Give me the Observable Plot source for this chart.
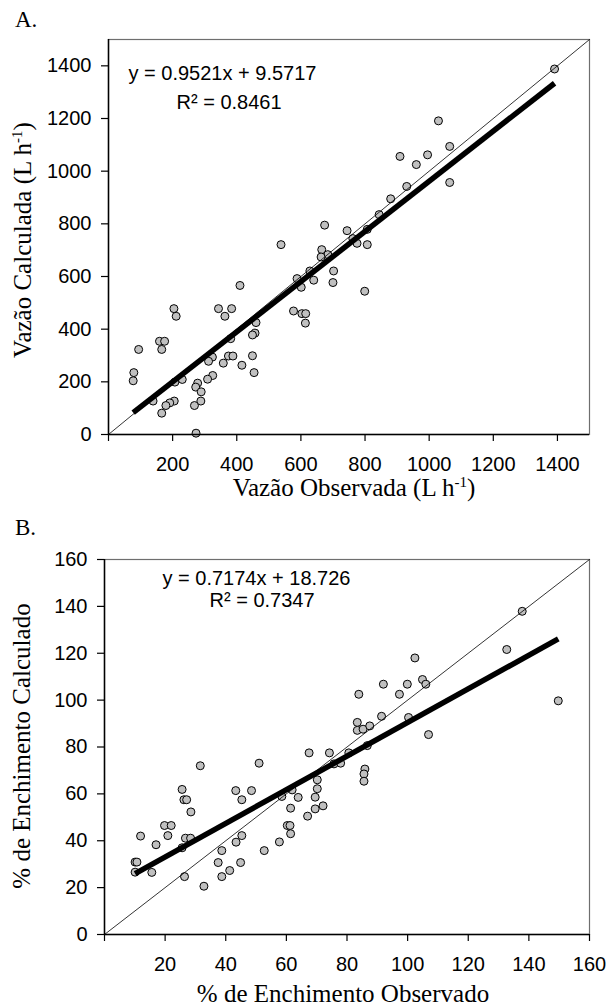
<!DOCTYPE html>
<html>
<head>
<meta charset="utf-8">
<script src="https://cdn.jsdelivr.net/npm/d3@7"></script>
<script src="https://cdn.jsdelivr.net/npm/@observablehq/plot@0.6"></script>
<style>
  html, body { margin: 0; padding: 0; background: #fff; }
  #page { position: relative; width: 608px; height: 1007px; overflow: hidden; }
  .panel { position: absolute; left: 0; }
  .ttl { position: absolute; font-family: "Liberation Serif", "Times New Roman", serif; color: #000; white-space: nowrap; line-height: 1; }
  .ttl sup { font-size: 0.6em; vertical-align: 0.6em; line-height: 0; }
  .center { transform: translate(-50%, -50%); }
  .rot { transform: translate(-50%, -50%) rotate(-90deg); }
</style>
</head>
<body>
<div id="page">
  <div class="ttl" style="left:15px; top:8px; font-size:23px;">A.</div>
  <div class="ttl rot" style="left:22px; top:240px; font-size:25px;">Vazão Calculada (L h<sup>-1</sup>)</div>
  <div class="ttl center" style="left:354px; top:487px; font-size:25px;">Vazão Observada (L h<sup>-1</sup>)</div>
  <div class="ttl" style="left:15px; top:516px; font-size:23px;">B.</div>
  <div class="ttl rot" style="left:21px; top:746px; font-size:25px;">% de Enchimento Calculado</div>
  <div class="ttl center" style="left:343px; top:993px; font-size:25px;">% de Enchimento Observado</div>
  <div id="panelA" class="panel" style="top:0px;"></div>
  <div id="panelB" class="panel" style="top:500px;"></div>
</div>
<script>
// ---------- Panel A: Vazão (L h-1) ----------
const vazaoObservada = [1391,1029,1064,909,995,960,1064,930,880,844,744,807,762,775,807,674,538,665,684,663,628,702,700,588,601,640,799,410,204,211,343,384,363,577,603,615,614,460,457,449,381,159,175,166,94,324,312,374,388,358,416,449,454,79,77,325,309,230,207,278,272,289,288,268,139,205,191,179,166,273];
const vazaoCalculada = [1388,1191,1094,1056,1062,1025,957,942,895,835,774,779,744,726,721,795,721,702,683,674,621,621,577,592,559,586,544,566,478,449,478,478,449,469,459,459,423,425,385,378,364,354,354,323,323,294,278,298,298,271,263,299,235,235,204,224,210,209,199,195,180,162,127,110,127,127,120,110,81,5];
const vazaoDomain = [0, 1500];
const vazaoTicks = [0, 200, 400, 600, 800, 1000, 1200, 1400];
const vazaoFit = { slope: 0.9521, intercept: 9.5717 };
const vazaoEq = "y = 0.9521x + 9.5717";
const vazaoR2 = "R² = 0.8461";

// ---------- Panel B: % de Enchimento ----------
const enchObservado = [67.5,74.2,31.6,51.0,25.6,26.2,27.1,28.5,43.3,48.5,45.3,19.8,22.0,20.9,11.9,17.0,26.7,28.4,25.6,10.1,10.7,10.1,15.6,26.4,32.8,38.7,37.5,38.7,41.3,44.9,43.4,45.3,52.7,57.7,60.3,61.2,61.4,61.4,58.5,61.9,63.9,67.0,69.5,72.1,69.5,70.2,70.2,75.7,77.9,80.6,137.8,132.7,149.7,102.4,92.0,99.9,104.9,106.0,83.9,97.3,91.4,100.3,106.9,83.4,83.4,85.3,87.5,86.7,85.9,85.6,85.6];
const enchCalculado = [77.5,77.5,72.0,73.1,61.9,57.5,57.5,52.3,61.4,61.4,57.5,46.5,46.5,42.2,42.0,38.3,41.1,41.1,37.0,30.9,30.9,26.6,26.5,24.7,20.6,35.8,30.7,24.7,27.3,30.7,39.4,42.2,35.8,39.5,46.5,46.5,43.0,53.9,58.9,61.7,58.5,50.5,53.6,54.9,58.6,62.2,66.0,72.8,73.1,77.5,137.9,121.6,99.7,118.0,106.8,106.8,108.8,106.8,102.5,102.5,93.1,92.6,85.3,90.5,87.1,87.6,89.0,80.6,70.6,68.5,65.4];
const enchDomain = [0, 160];
const enchTicks = [0, 20, 40, 60, 80, 100, 120, 140, 160];
const enchFit = { slope: 0.7174, intercept: 18.726 };
const enchEq = "y = 0.7174x + 18.726";
const enchR2 = "R² = 0.7347";

function panel({obs, calc, domain, ticks, fit, eq, r2, height, margins, eqPos, r2Pos}) {
  const pts = obs.map((x, i) => ({x, y: calc[i]}));
  const ext = d3.extent(obs);
  const fitLine = ext.map(x => ({x, y: fit.slope * x + fit.intercept}));
  const idLine = domain.map(v => ({x: v, y: v}));
  return Plot.plot({
    width: 608,
    height,
    ...margins,
    style: { fontFamily: "'Liberation Sans', Arial, sans-serif", fontSize: "20px", color: "#000", background: "transparent", overflow: "visible" },
    x: { domain, label: null },
    y: { domain, label: null },
    marks: [
      Plot.frame({ stroke: "#6e6e6e", strokeWidth: 1.2 }),
      Plot.dot(pts, { x: "x", y: "y", r: 4, fill: "#c0c0c0", stroke: "#000", strokeWidth: 1 }),
      Plot.line(idLine, { x: "x", y: "y", stroke: "#000", strokeWidth: 0.8 }),
      Plot.line(fitLine, { x: "x", y: "y", stroke: "#000", strokeWidth: 5.5, strokeLinecap: "butt" }),
      Plot.ruleX([domain[0]], { stroke: "#000", strokeWidth: 1.5 }),
      Plot.ruleY([domain[0]], { stroke: "#000", strokeWidth: 1.5 }),
      Plot.axisY({ ticks, tickSize: 7, tickPadding: 10, label: null, stroke: "#000", strokeWidth: 1.2, fill: "#000",
                   tickFormat: d => String(d) }),
      Plot.axisX({ ticks, tickSize: 7, tickPadding: 15, label: null, stroke: "#000", strokeWidth: 1.2, fill: "#000",
                   tickFormat: d => d === domain[0] ? "" : String(d) }),
      Plot.text([eq], { frameAnchor: "top-left", dx: eqPos[0], dy: eqPos[1], textAnchor: "start", lineAnchor: "middle", fontSize: 20, fill: "#000" }),
      Plot.text([r2], { frameAnchor: "top-left", dx: r2Pos[0], dy: r2Pos[1], textAnchor: "start", lineAnchor: "middle", fontSize: 20, fill: "#000" })
    ]
  });
}

document.getElementById("panelA").append(panel({
  obs: vazaoObservada, calc: vazaoCalculada, domain: vazaoDomain, ticks: vazaoTicks, fit: vazaoFit,
  eq: vazaoEq, r2: vazaoR2, height: 500,
  margins: { marginLeft: 108, marginRight: 19, marginTop: 39, marginBottom: 66 },
  eqPos: [20, 34], r2Pos: [68, 63]
}));

document.getElementById("panelB").append(panel({
  obs: enchObservado, calc: enchCalculado, domain: enchDomain, ticks: enchTicks, fit: enchFit,
  eq: enchEq, r2: enchR2, height: 507,
  margins: { marginLeft: 104, marginRight: 19, marginTop: 59, marginBottom: 73 },
  eqPos: [58, 19], r2Pos: [105, 41]
}));
</script>
</body>
</html>
